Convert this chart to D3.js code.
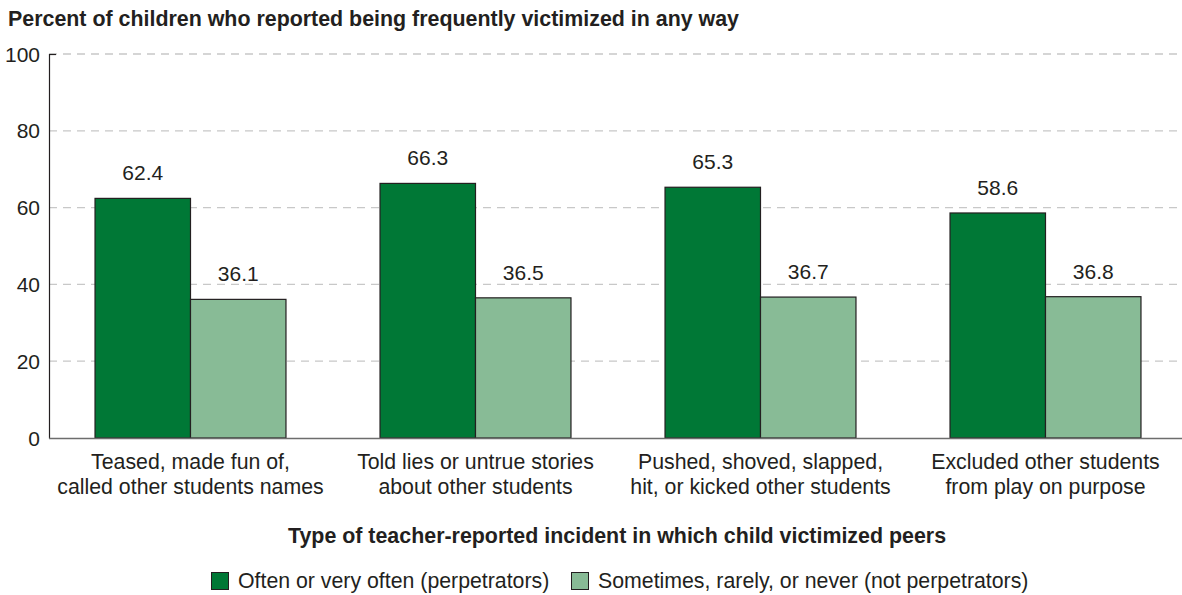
<!DOCTYPE html>
<html><head><meta charset="utf-8">
<script src="https://cdn.jsdelivr.net/npm/d3@7"></script>
<style>body{margin:0;background:#fff}svg{display:block}text{font-family:"Liberation Sans",Arial,sans-serif;fill:#231f20}</style>
</head><body><svg id="c" width="1182" height="595"></svg>
<script>
const categories = [["Teased, made fun of,","called other students names"],["Told lies or untrue stories","about other students"],["Pushed, shoved, slapped,","hit, or kicked other students"],["Excluded other students","from play on purpose"]];
const seriesNames = ["Often or very often (perpetrators)","Sometimes, rarely, or never (not perpetrators)"];
const perpetrators = [62.4, 66.3, 65.3, 58.6];
const notPerpetrators = [36.1, 36.5, 36.7, 36.8];
const yTicks = [0,20,40,60,80,100];
const colors = ["#007836","#88bb96"];

const svg = d3.select("#c");
const y = d3.scaleLinear().domain([0,100]).range([438,54]);
const x0 = d3.scaleBand().domain(d3.range(categories.length)).range([48,1188]).paddingInner(0.33).paddingOuter(0.165);
const x1 = d3.scaleBand().domain([0,1]).range([0,x0.bandwidth()]);

// grid
svg.append("g").selectAll("line").data(yTicks.filter(d=>d>0)).join("line")
  .attr("x1",49).attr("x2",1182).attr("y1",d=>y(d)).attr("y2",d=>y(d))
  .attr("stroke","#c8c8c8").attr("stroke-width",1.3).attr("stroke-dasharray","8,6");

// y axis labels
svg.append("g").selectAll("text").data(yTicks).join("text")
  .attr("x",40).attr("y",d=>y(d)).attr("dy","0.36em").attr("text-anchor","end")
  .attr("font-size",21).text(d=>d);
svg.append("line").attr("x1",49.5).attr("x2",49.5).attr("y1",54).attr("y2",438.5).attr("stroke","#231f20").attr("stroke-width",1.2);
svg.append("line").attr("x1",49.5).attr("x2",56).attr("y1",54.5).attr("y2",54.5).attr("stroke","#231f20").attr("stroke-width",1.2);

// bars
const data = categories.map((c,i)=>[perpetrators[i], notPerpetrators[i]]);
const g = svg.append("g").selectAll("g").data(data).join("g").attr("transform",(d,i)=>`translate(${x0(i)},0)`);
g.selectAll("rect").data(d=>d).join("rect")
  .attr("x",(d,j)=>x1(j)).attr("width",x1.bandwidth())
  .attr("y",d=>y(d)).attr("height",d=>y(0)-y(d))
  .attr("fill",(d,j)=>colors[j]).attr("stroke","#231f20").attr("stroke-width",1.2);
g.selectAll("text").data(d=>d).join("text")
  .attr("x",(d,j)=>x1(j)+x1.bandwidth()/2).attr("y",d=>y(d)-18)
  .attr("text-anchor","middle").attr("font-size",21).text(d=>d.toFixed(1));

// baseline
svg.append("line").attr("x1",49).attr("x2",1182).attr("y1",438.5).attr("y2",438.5).attr("stroke","#6d6d6d").attr("stroke-width",1.5);

// x labels
svg.append("g").selectAll("text").data(categories).join("text")
  .attr("x",(d,i)=>x0(i)+x0.bandwidth()/2).attr("y",469).attr("text-anchor","middle").attr("font-size",21.3)
  .each(function(d){d3.select(this).selectAll("tspan").data(d).join("tspan").attr("x",d3.select(this).attr("x")).attr("dy",(t,k)=>k?25:0).text(t=>t);});

// titles
svg.append("text").attr("x",8).attr("y",26).attr("font-size",21.4).attr("font-weight","bold").text("Percent of children who reported being frequently victimized in any way");
svg.append("text").attr("x",617).attr("y",543).attr("text-anchor","middle").attr("font-size",21.4).attr("font-weight","bold").text("Type of teacher-reported incident in which child victimized peers");

// legend
const leg = [{x:211},{x:571}];
leg.forEach((l,i)=>{
  svg.append("rect").attr("x",l.x+0.5).attr("y",572.5).attr("width",17).attr("height",17).attr("fill",colors[i]).attr("stroke","#231f20").attr("stroke-width",1);
  svg.append("text").attr("x",l.x+27).attr("y",588).attr("font-size",21.3).text(seriesNames[i]);
});
</script></body></html>
